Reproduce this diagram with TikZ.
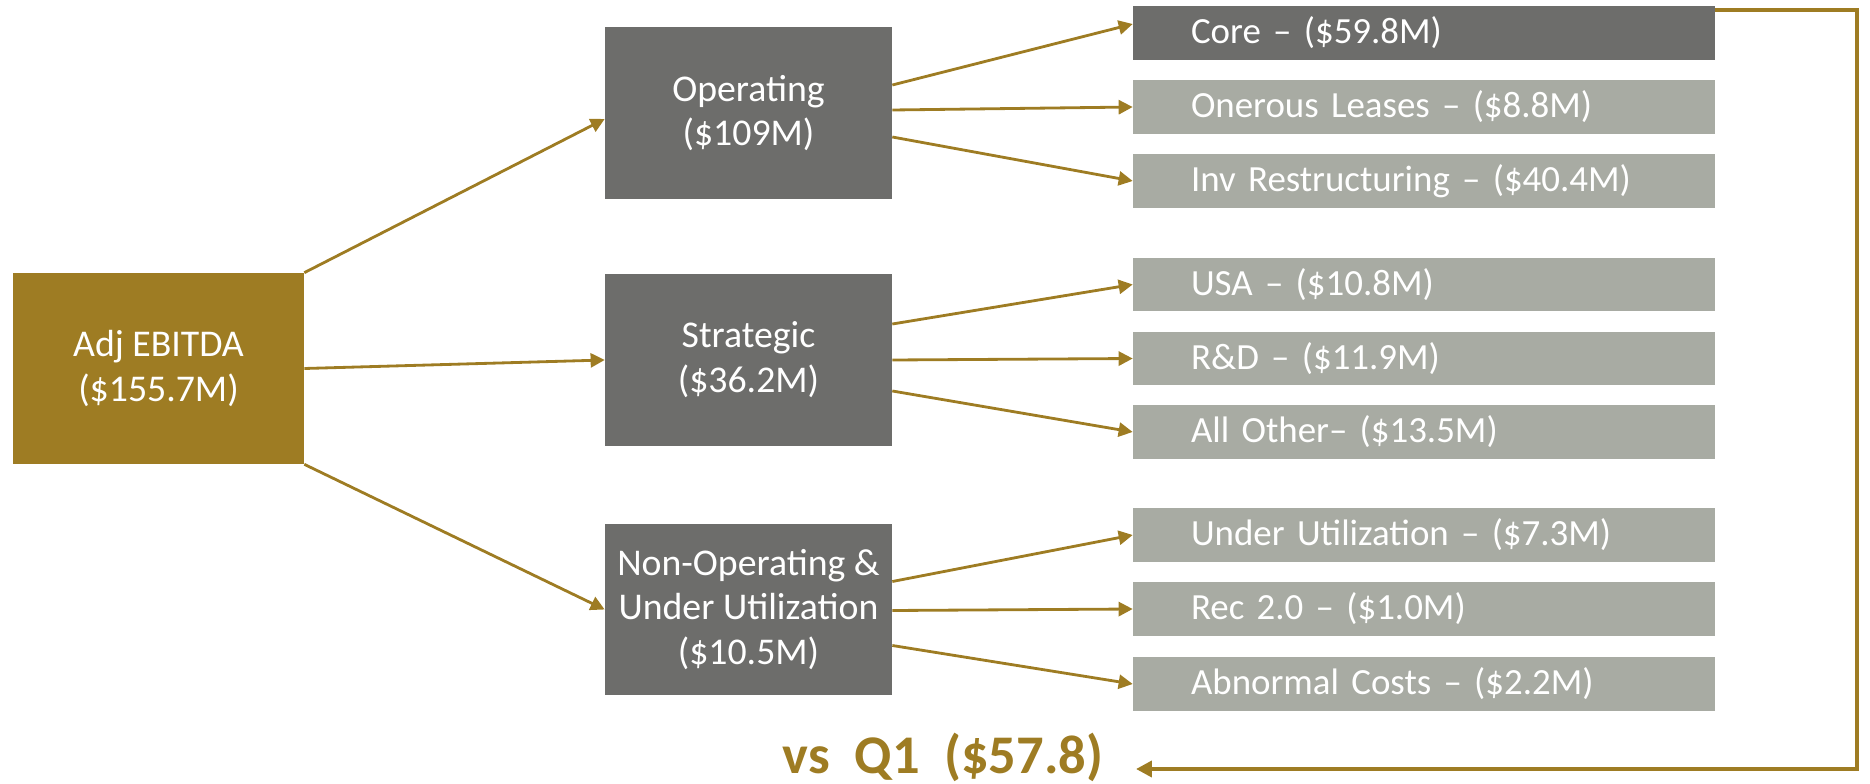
\documentclass[tikz,border=0pt]{standalone}
\usepackage{fontspec}
\setmainfont{Carlito}
\usepackage{tikz}
\usetikzlibrary{arrows.meta}
\definecolor{ebitdagold}{HTML}{9E7C23}
\definecolor{darkgrey}{HTML}{6D6D6B}
\definecolor{lightgrey}{HTML}{A8ABA3}
\newcommand\itemfont{\fontsize{21}{25}\selectfont\spaceskip=0.18em plus 0.1em\relax}
\tikzset{
    goldarrow/.style={-{Triangle[length=8pt,width=8pt]}, color=ebitdagold, line width=1.6pt},
    loopline/.style={-{Triangle[length=9pt,width=9pt]}, draw=ebitdagold, line width=2.2pt},
    totalbox/.style={fill=ebitdagold, text=white, inner sep=0pt, align=center,
        minimum width=5.82cm, minimum height=3.82cm,
        font=\fontsize{21.5}{25.5}\selectfont},
    groupbox/.style={fill=darkgrey, text=white, inner sep=0pt, align=center,
        minimum width=5.74cm, minimum height=3.44cm,
        font=\fontsize{21.5}{25.5}\selectfont},
    itembox/.style={fill=lightgrey, text=white, inner xsep=1.16cm, inner ysep=0pt,
        text width=9.32cm, align=left, minimum height=1.08cm, font=\itemfont},
    q1text/.style={text=ebitdagold, font=\fontsize{31}{36}\selectfont\bfseries}
}
\begin{document}
\begin{tikzpicture}[x=0.02cm, y=-0.02cm]
    \useasboundingbox (0,0) rectangle (1870,784);

    \node[totalbox] (adj) at (158.5,368.5) {Adj EBITDA\\(\$155.7M)};

    \node[groupbox] (op) at (748.5,113) {Operating\\(\$109M)};
    \node[groupbox] (str) at (748.5,360) {Strategic\\(\$36.2M)};
    \node[groupbox] (nonop) at (748.5,609.5) {Non-Operating \&\\Under Utilization\\(\$10.5M)};

    \node[itembox, fill=darkgrey] (core) at (1424,33) {Core -- (\$59.8M)};
    \node[itembox] (lease) at (1424,107) {Onerous Leases -- (\$8.8M)};
    \node[itembox] (inv) at (1424,181) {Inv Restructuring -- (\$40.4M)};

    \node[itembox] (usa) at (1424,284.5) {USA -- (\$10.8M)};
    \node[itembox] (rd) at (1424,358.5) {R\&D -- (\$11.9M)};
    \node[itembox] (other) at (1424,432) {All Other-- (\$13.5M)};

    \node[itembox] (util) at (1424,535) {Under Utilization -- (\$7.3M)};
    \node[itembox] (rec) at (1424,609) {Rec 2.0 -- (\$1.0M)};
    \node[itembox] (abn) at (1424,684) {Abnormal Costs -- (\$2.2M)};

    \node[q1text] (vs) at (943,757) {vs\ \ Q1\ \ (\$57.8)};

    % first level
    \path [goldarrow](adj.north east) edge ([yshift=-0.12cm]op.west);
    \path [goldarrow](adj.east) edge (str.west);
    \path [goldarrow](adj.south east) edge (nonop.west);

    % second level
    \path [goldarrow]([yshift=0.56cm]op.east) edge ([yshift=0.18cm]core.west);
    \path [goldarrow]([yshift=0.06cm]op.east) edge (lease.west);
    \path [goldarrow]([yshift=-0.48cm]op.east) edge (inv.west);

    \path [goldarrow]([yshift=0.72cm]str.east) edge (usa.west);
    \path [goldarrow](str.east) edge (rd.west);
    \path [goldarrow]([yshift=-0.62cm]str.east) edge (other.west);

    \path [goldarrow]([yshift=0.56cm]nonop.east) edge (util.west);
    \path [goldarrow]([yshift=-0.02cm]nonop.east) edge (rec.west);
    \path [goldarrow]([yshift=-0.72cm]nonop.east) edge (abn.west);

    % back to the quarter
    \coordinate (loopcorner) at (1857,769);
    \coordinate (looptip) at (1136,769);
    \draw [loopline]([yshift=-0.08cm]core.north east) -| (loopcorner) -- (looptip);
\end{tikzpicture}
\end{document}
